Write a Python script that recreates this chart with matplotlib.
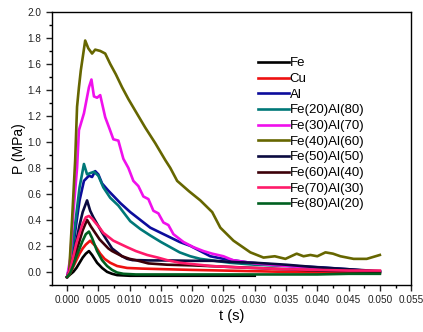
#!/usr/bin/env python
# -*- coding: utf-8 -*-
import numpy as np
import matplotlib
matplotlib.use('Agg')
import matplotlib.pyplot as plt
from matplotlib.ticker import MultipleLocator, FormatStrFormatter

plt.rcParams['font.family'] = ['Liberation Sans', 'DejaVu Sans']

# pressure curves P (MPa) vs t (s)
t_fe = [0, 0.0005, 0.001, 0.0015, 0.002, 0.0025, 0.003, 0.0035, 0.004, 0.0048, 0.0056, 0.0064,
        0.0072, 0.008, 0.010, 0.015, 0.020, 0.025, 0.030]
p_fe = [-0.04, -0.02, 0.0, 0.03, 0.07, 0.11, 0.14, 0.16, 0.13, 0.07, 0.03, 0.0,
        -0.015, -0.025, -0.03, -0.03, -0.03, -0.03, -0.03]

t_cu = [0, 0.0005, 0.001, 0.0015, 0.002, 0.0025, 0.003, 0.0037, 0.0045, 0.0053, 0.006, 0.0069,
        0.008, 0.0096, 0.012, 0.016, 0.02, 0.025, 0.03, 0.035, 0.04, 0.045, 0.05]
p_cu = [-0.04, -0.01, 0.04, 0.09, 0.14, 0.18, 0.21, 0.24, 0.2, 0.14, 0.1, 0.07,
        0.045, 0.03, 0.025, 0.02, 0.015, 0.01, 0.005, 0.0, -0.005, -0.01, -0.01]

t_al = [0, 0.0005, 0.001, 0.0015, 0.002, 0.0027, 0.0035, 0.004, 0.0045, 0.005, 0.0056, 0.0066,
        0.0075, 0.0085, 0.0101, 0.0117, 0.0133, 0.015, 0.0165, 0.018, 0.0197, 0.0213, 0.0229,
        0.025, 0.0293, 0.032, 0.036, 0.0405, 0.045, 0.05]
p_al = [-0.04, 0.05, 0.2, 0.38, 0.55, 0.70, 0.74, 0.73, 0.775, 0.75, 0.68, 0.625,
        0.58, 0.53, 0.46, 0.40, 0.34, 0.30, 0.265, 0.23, 0.20, 0.16, 0.12,
        0.10, 0.07, 0.06, 0.045, 0.035, 0.02, 0.0]

t_fe20 = [0, 0.0005, 0.001, 0.0015, 0.002, 0.0027, 0.0032, 0.0037, 0.0043, 0.005, 0.0058, 0.0069,
          0.0082, 0.0101, 0.0117, 0.0133, 0.015, 0.0165, 0.018, 0.0197, 0.0213, 0.0229, 0.026,
          0.03, 0.035, 0.04, 0.045, 0.05]
p_fe20 = [-0.04, 0.06, 0.25, 0.45, 0.65, 0.83, 0.75, 0.76, 0.77, 0.74, 0.65, 0.57,
          0.51, 0.39, 0.33, 0.28, 0.23, 0.19, 0.15, 0.12, 0.10, 0.09, 0.07,
          0.055, 0.045, 0.03, 0.015, -0.005]

t_fe30 = [0, 0.0005, 0.001, 0.0016, 0.0019, 0.0027, 0.0035, 0.0039, 0.0043, 0.0048, 0.0053, 0.0061,
          0.0068, 0.0074, 0.0082, 0.009, 0.0098, 0.0106, 0.0114, 0.0122, 0.013, 0.0138, 0.0146,
          0.0154, 0.0162, 0.017, 0.0186, 0.0202, 0.0218, 0.0232, 0.025, 0.0265, 0.03, 0.035,
          0.04, 0.045, 0.05]
p_fe30 = [-0.04, 0.1, 0.45, 0.8, 1.09, 1.22, 1.42, 1.48, 1.35, 1.34, 1.36, 1.19,
          1.10, 1.02, 1.01, 0.87, 0.80, 0.70, 0.66, 0.58, 0.56, 0.47, 0.45,
          0.38, 0.36, 0.29, 0.23, 0.19, 0.16, 0.14, 0.12, 0.09, 0.065, 0.045,
          0.03, 0.015, 0.0]

t_fe40 = [0, 0.0003, 0.0008, 0.0013, 0.0016, 0.0019, 0.0022, 0.0029, 0.0034, 0.004, 0.0045, 0.0053,
          0.0061, 0.0069, 0.0078, 0.0088, 0.0098, 0.0109, 0.0125, 0.0141, 0.0157, 0.0165, 0.0176,
          0.0195, 0.0213, 0.0232, 0.0245, 0.0266, 0.0293, 0.0314, 0.0332, 0.0349, 0.0367, 0.0378,
          0.0389, 0.040, 0.0413, 0.0425, 0.0437, 0.0458, 0.0479, 0.050]
p_fe40 = [-0.04, -0.03, 0.4, 0.86, 1.27, 1.42, 1.55, 1.78, 1.72, 1.68, 1.71, 1.70,
          1.68, 1.60, 1.52, 1.42, 1.33, 1.24, 1.11, 0.99, 0.86, 0.80, 0.70,
          0.62, 0.55, 0.46, 0.34, 0.24, 0.15, 0.11, 0.12, 0.10, 0.14, 0.12,
          0.13, 0.12, 0.15, 0.14, 0.12, 0.10, 0.10, 0.13]

t_fe50 = [0, 0.0005, 0.001, 0.0015, 0.002, 0.0025, 0.0032, 0.0037, 0.0042, 0.0048, 0.0055, 0.0064,
          0.0072, 0.008, 0.0088, 0.0096, 0.0105, 0.0115, 0.013, 0.016, 0.02, 0.0232, 0.027,
          0.03, 0.035, 0.04, 0.045, 0.05]
p_fe50 = [-0.04, 0.02, 0.12, 0.24, 0.36, 0.46, 0.55, 0.47, 0.42, 0.37, 0.31, 0.24,
          0.18, 0.15, 0.12, 0.10, 0.09, 0.09, 0.088, 0.088, 0.085, 0.085, 0.075,
          0.07, 0.055, 0.035, 0.02, 0.005]

t_fe60 = [0, 0.0005, 0.001, 0.0015, 0.002, 0.0025, 0.0032, 0.0038, 0.0045, 0.0052, 0.0058, 0.0066,
          0.0072, 0.008, 0.0088, 0.010, 0.011, 0.013, 0.016, 0.02, 0.025, 0.03, 0.035,
          0.04, 0.045, 0.05]
p_fe60 = [-0.04, 0.0, 0.08, 0.16, 0.24, 0.32, 0.40, 0.35, 0.30, 0.25, 0.22, 0.18,
          0.16, 0.14, 0.12, 0.10, 0.09, 0.065, 0.055, 0.05, 0.04, 0.03, 0.02,
          0.01, 0.005, 0.0]

t_fe70 = [0, 0.0005, 0.001, 0.0015, 0.002, 0.0025, 0.003, 0.0035, 0.004, 0.0045, 0.0052, 0.0058,
          0.0066, 0.0074, 0.0085, 0.0096, 0.011, 0.0128, 0.0145, 0.016, 0.018, 0.02, 0.023,
          0.027, 0.03, 0.035, 0.04, 0.045, 0.05]
p_fe70 = [-0.04, 0.02, 0.12, 0.22, 0.30, 0.37, 0.42, 0.43, 0.41, 0.38, 0.34, 0.30,
          0.27, 0.24, 0.215, 0.19, 0.16, 0.13, 0.11, 0.09, 0.07, 0.06, 0.045,
          0.035, 0.03, 0.02, 0.015, 0.01, 0.01]

t_fe80 = [0, 0.0005, 0.001, 0.0015, 0.002, 0.0025, 0.003, 0.0035, 0.004, 0.0048, 0.0056, 0.0064,
          0.0072, 0.008, 0.009, 0.011, 0.015, 0.02, 0.025, 0.03, 0.035, 0.04, 0.045, 0.05]
p_fe80 = [-0.04, -0.01, 0.05, 0.12, 0.18, 0.24, 0.29, 0.31, 0.26, 0.16, 0.09, 0.045,
          0.015, -0.005, -0.015, -0.02, -0.02, -0.02, -0.02, -0.02, -0.02, -0.02, -0.015, -0.015]

labels = ['Fe', 'Cu', 'Al', 'Fe(20)Al(80)', 'Fe(30)Al(70)', 'Fe(40)Al(60)',
          'Fe(50)Al(50)', 'Fe(60)Al(40)', 'Fe(70)Al(30)', 'Fe(80)Al(20)']
times = [t_fe, t_cu, t_al, t_fe20, t_fe30, t_fe40, t_fe50, t_fe60, t_fe70, t_fe80]
pressures = [p_fe, p_cu, p_al, p_fe20, p_fe30, p_fe40, p_fe50, p_fe60, p_fe70, p_fe80]
colors = ['#000000', '#ee1111', '#0c0c9c', '#007878', '#f010ec', '#666600',
          '#0a0a40', '#3c0008', '#ff1a6a', '#006020']


"""
PLOT
"""

fig = plt.figure(figsize=(4.23, 3.32), dpi=100)
ax = fig.add_axes([0.123, 0.142, 0.849, 0.822])

for t, p, lab, c in zip(times, pressures, labels, colors):
    ax.plot(t, p, color=c, lw=1.9, label=lab)

# Parameters
ax.set_xlim(-0.0024, 0.055)
ax.set_ylim(-0.1, 2.0)

ax.xaxis.set_major_locator(MultipleLocator(0.005))
ax.xaxis.set_minor_locator(MultipleLocator(0.0025))
ax.yaxis.set_major_locator(MultipleLocator(0.2))
ax.yaxis.set_minor_locator(MultipleLocator(0.1))
ax.xaxis.set_major_formatter(FormatStrFormatter('%.3f'))
ax.yaxis.set_major_formatter(FormatStrFormatter('%.1f'))

ax.tick_params(axis='both', which='major', direction='out', length=4, width=1,
               labelsize=7.2, colors='#222222')
ax.tick_params(axis='both', which='minor', direction='out', length=2, width=1)
for s in ax.spines.values():
    s.set_linewidth(1)

ax.set_xlabel('t (s)', fontsize=10.5, labelpad=3)
ax.set_ylabel('P (MPa)', fontsize=10, labelpad=1)

ax.legend(fontsize=9.5, loc='upper left', bbox_to_anchor=(0.574, 0.834), frameon=False,
          borderpad=0, handlelength=2.35, handletextpad=0.05, labelspacing=0.26,
          borderaxespad=0)

fig.savefig('out.png', dpi=100)
plt.close()
